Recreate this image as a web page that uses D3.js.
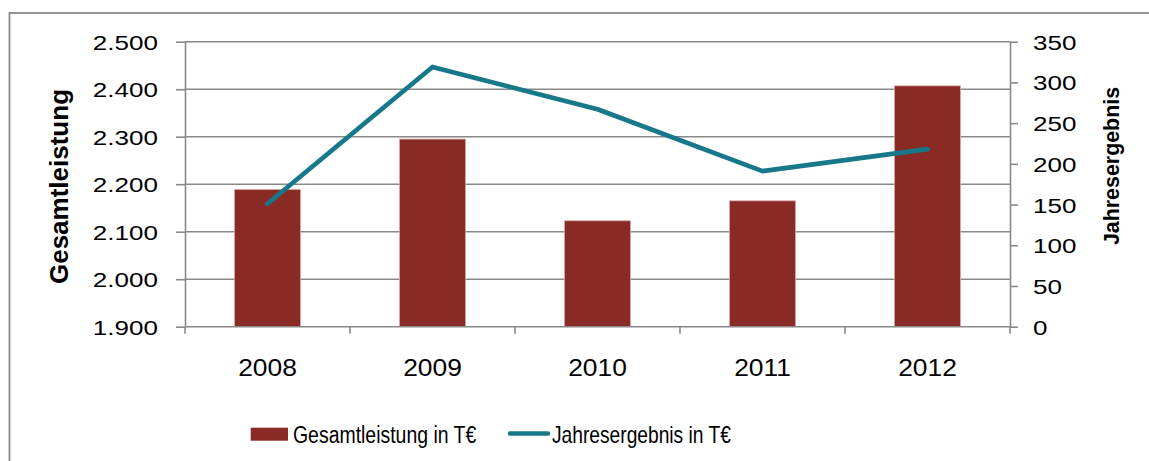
<!DOCTYPE html>
<html>
<head>
<meta charset="utf-8">
<script src="https://cdn.jsdelivr.net/npm/d3@7"></script>
<style>
  body { margin: 0; background: #fff; }
  text { font-family: "Liberation Sans", Arial, sans-serif; fill: #000; }
</style>
</head>
<body>
<div id="app"></div>
<script>
// data
const years = ["2008", "2009", "2010", "2011", "2012"];
const gesamtleistung = [2189, 2295, 2123, 2165, 2407];
const jahresergebnis = [151, 319, 267, 191, 218];
const leftTicks = [1900, 2000, 2100, 2200, 2300, 2400, 2500];
const rightTicks = [0, 50, 100, 150, 200, 250, 300, 350];

const width = 1149, height = 461;
const plot = { left: 185, right: 1010, top: 41.7, bottom: 326.7 };
const barColor = "#8a2a25";
const lineColor = "#17788a";
const gridColor = "#898989";

const svg = d3.select("#app").append("svg")
  .attr("width", width)
  .attr("height", height);

// outer chart frame
svg.append("rect")
  .attr("x", 9.5).attr("y", 13)
  .attr("width", 1200).attr("height", 500)
  .attr("fill", "none")
  .attr("stroke", gridColor)
  .attr("stroke-width", 1.8);

const x = d3.scaleBand().domain(years).range([plot.left, plot.right]).padding(0);
const yLeft = d3.scaleLinear().domain([1900, 2500]).range([plot.bottom, plot.top]);
const yRight = d3.scaleLinear().domain([0, 350]).range([plot.bottom, plot.top]);

// horizontal gridlines
svg.append("g").selectAll("line")
  .data(leftTicks.slice(1))
  .join("line")
  .attr("x1", plot.left).attr("x2", plot.right)
  .attr("y1", d => yLeft(d)).attr("y2", d => yLeft(d))
  .attr("stroke", gridColor)
  .attr("stroke-width", 1.6);

// bars
const barW = x.bandwidth() * 0.4;
svg.append("g").selectAll("rect")
  .data(years)
  .join("rect")
  .attr("x", d => x(d) + (x.bandwidth() - barW) / 2)
  .attr("width", barW)
  .attr("y", (d, i) => yLeft(gesamtleistung[i]))
  .attr("height", (d, i) => plot.bottom - yLeft(gesamtleistung[i]))
  .attr("fill", barColor)
  .attr("stroke", "#d8a9a7")
  .attr("stroke-width", 0.8);

// axes
const axisStyle = g => {
  g.select(".domain").attr("stroke", gridColor).attr("stroke-width", 1.6);
  g.selectAll(".tick line").attr("stroke", gridColor).attr("stroke-width", 1.6);
};

const leftAxis = svg.append("g")
  .attr("transform", `translate(${plot.left},0)`)
  .call(d3.axisLeft(yLeft).tickValues(leftTicks).tickSize(9).tickSizeOuter(0)
    .tickFormat(d => d3.format(",")(d).replace(",", ".")))
  .call(axisStyle);
leftAxis.selectAll(".tick text")
  .attr("x", null)
  .attr("font-size", 21)
  .attr("text-anchor", "end")
  .attr("transform", "translate(-27,0) scale(1.24,1)")
  .attr("dy", "0.36em");

const rightAxis = svg.append("g")
  .attr("transform", `translate(${plot.right},0)`)
  .call(d3.axisRight(yRight).tickValues(rightTicks).tickSize(8).tickSizeOuter(0))
  .call(axisStyle);
rightAxis.selectAll(".tick text")
  .attr("x", null)
  .attr("font-size", 21)
  .attr("text-anchor", "start")
  .attr("transform", "translate(23,0) scale(1.24,1)")
  .attr("dy", "0.36em");

// category axis: ticks sit at band boundaries
const bottomAxis = svg.append("g")
  .attr("transform", `translate(0,${plot.bottom})`);
bottomAxis.append("line")
  .attr("x1", plot.left).attr("x2", plot.right)
  .attr("stroke", gridColor).attr("stroke-width", 1.6);
bottomAxis.selectAll("line.tick")
  .data(years.concat(["end"]))
  .join("line")
  .attr("class", "tick")
  .attr("x1", (d, i) => plot.left + i * x.step())
  .attr("x2", (d, i) => plot.left + i * x.step())
  .attr("y1", 0).attr("y2", 7)
  .attr("stroke", gridColor).attr("stroke-width", 1.6);
bottomAxis.selectAll("text")
  .data(years)
  .join("text")
  .attr("text-anchor", "middle")
  .attr("font-size", 24)
  .attr("transform", d => `translate(${x(d) + x.bandwidth() / 2},49) scale(1.1,1)`)
  .text(d => d);

// line series
const line = d3.line()
  .x((d, i) => x(years[i]) + x.bandwidth() / 2)
  .y(d => yRight(d));
svg.append("path")
  .datum(jahresergebnis)
  .attr("d", line)
  .attr("fill", "none")
  .attr("stroke", lineColor)
  .attr("stroke-width", 4.7)
  .attr("stroke-linecap", "round")
  .attr("stroke-linejoin", "round");

// axis titles
svg.append("text")
  .attr("transform", "translate(67.5,186.5) rotate(-90)")
  .attr("text-anchor", "middle")
  .attr("font-size", 26)
  .attr("font-weight", "bold")
  .text("Gesamtleistung");
svg.append("text")
  .attr("transform", "translate(1118.5,166) rotate(-90)")
  .attr("text-anchor", "middle")
  .attr("font-size", 21.4)
  .attr("font-weight", "bold")
  .text("Jahresergebnis");

// legend
const legend = svg.append("g");
legend.append("rect")
  .attr("x", 250.7).attr("y", 427.7)
  .attr("width", 37.3).attr("height", 13)
  .attr("fill", barColor);
legend.append("text")
  .attr("font-size", 24)
  .attr("transform", "translate(293,443) scale(0.81,1)")
  .text("Gesamtleistung in T€");
legend.append("line")
  .attr("x1", 510).attr("x2", 548)
  .attr("y1", 433.5).attr("y2", 433.5)
  .attr("stroke", lineColor)
  .attr("stroke-width", 4.5)
  .attr("stroke-linecap", "round");
legend.append("text")
  .attr("font-size", 24)
  .attr("transform", "translate(552,443) scale(0.8,1)")
  .text("Jahresergebnis in T€");
</script>
</body>
</html>
